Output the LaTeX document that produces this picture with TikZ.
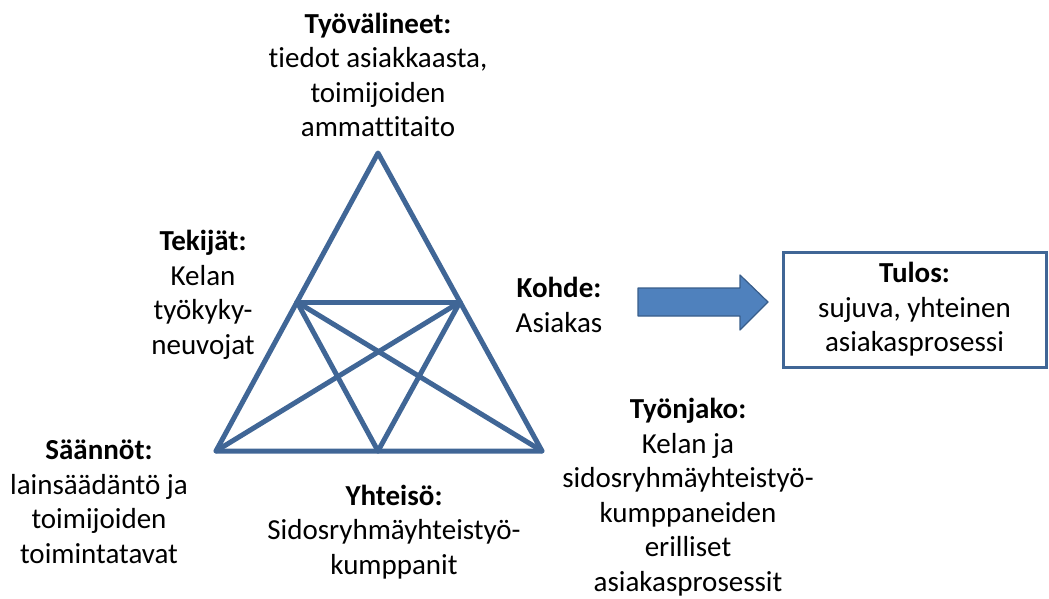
\documentclass[tikz,border=0pt]{standalone}
\usepackage{fontspec}
\setmainfont{Carlito}[Ligatures=NoCommon]
\definecolor{triblue}{RGB}{64,102,150}
\definecolor{arrfill}{RGB}{79,129,189}
\definecolor{arrdraw}{RGB}{56,93,138}
\begin{document}
\begin{tikzpicture}[x=1pt,y=-1pt,
    ln/.style={draw=triblue,line width=5pt,line cap=round,line join=round},
    lb/.style={align=center,inner sep=0pt,font=\fontsize{29}{34.5}\selectfont}]
        \useasboundingbox (0,0) rectangle (1049,599);
        % corners of the triangle and the points on its sides
        \coordinate (top) at (378,153);
        \coordinate (bl) at (216,451);
        \coordinate (br) at (542,451);
        \coordinate (ml) at (297,302);
        \coordinate (mr) at (460,302);
        \coordinate (mb) at (378,451);
        \draw[ln] (top) -- (br) -- (bl) -- cycle;
        \foreach \a/\b in {ml/mr,ml/br,mr/bl,ml/mb,mr/mb} {
            \draw[ln] (\a) -- (\b);
        }
        % labels
        \node[lb] (tyovalineet) at (378,75) {\textbf{Työvälineet:}\\tiedot asiakkaasta,\\toimijoiden\\ammattitaito};
        \node[lb] (tekijat) at (203,295) {\textbf{Tekijät:}\\Kelan\\työkyky-\\neuvojat};
        \node[lb] (kohde) at (559,305) {\textbf{Kohde:}\\Asiakas};
        \node[lb] (saannot) at (99,502) {\textbf{Säännöt:}\\lainsäädäntö ja\\toimijoiden\\toimintatavat};
        \node[lb] (yhteiso) at (394,532) {\textbf{Yhteisö:}\\Sidosryhmäyhteistyö-\\kumppanit};
        \node[lb] (tyonjako) at (688,497) {\textbf{Työnjako:}\\Kelan ja\\sidosryhmäyhteistyö-\\kumppaneiden\\erilliset\\asiakasprosessit};
        \node[lb,draw=triblue,line width=3pt,minimum width=263,minimum height=115] (tulos) at (914.5,309.5) {\textbf{Tulos:}\\sujuva, yhteinen\\asiakasprosessi};
        % block arrow
        \draw[fill=arrfill,draw=arrdraw,line width=1.2pt,line join=round] (638,288) -- (740,288) -- (740,275) -- (768,302) -- (740,330) -- (740,316) -- (638,316) -- cycle;
    \end{tikzpicture}
\end{document}
